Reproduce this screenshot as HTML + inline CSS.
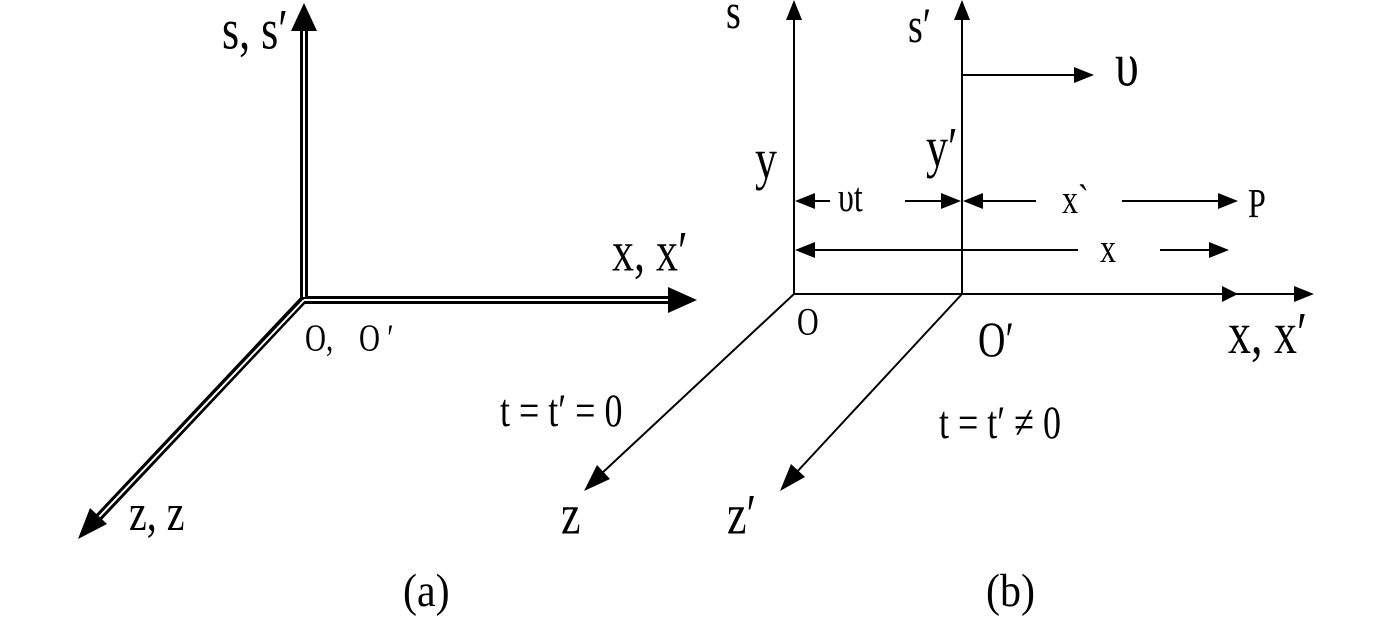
<!DOCTYPE html>
<html><head><meta charset="utf-8"><style>
html,body{margin:0;padding:0;background:#fff;}
.w{position:relative;width:1373px;height:625px;overflow:hidden}
svg{display:block;position:absolute;left:0;top:0}
.t{position:absolute;font-family:"Liberation Serif",serif;color:#000;line-height:1;white-space:pre;transform-origin:0 0.8375em;transform:scaleY(1.3)}
.p{transform:scaleY(1.1)}
</style></head><body><div class="w">
<svg width="1373" height="625" viewBox="0 0 1373 625" xmlns="http://www.w3.org/2000/svg">
<g stroke="#000" fill="none">
  <line x1="304" y1="28" x2="304" y2="300" stroke-width="8"/>
  <line x1="300" y1="300" x2="672" y2="300" stroke-width="8"/>
  <line x1="306" y1="297" x2="98" y2="518" stroke-width="8"/>
</g>
<g stroke="#fff" fill="none">
  <line x1="304" y1="28" x2="304" y2="297" stroke-width="2"/>
  <line x1="304" y1="300" x2="672" y2="300" stroke-width="2"/>
  <line x1="304" y1="300" x2="98" y2="518" stroke-width="2"/>
</g>
<g fill="#000">
  <polygon points="304,3 291,31 317,31"/>
  <polygon points="697,300 668,287 668,313"/>
  <polygon points="78,539 107,524 90,508"/>
</g>
<g stroke="#000" stroke-width="2" fill="none">
  <line x1="794" y1="20" x2="794" y2="294"/>
  <line x1="962" y1="20" x2="962" y2="294"/>
  <line x1="794" y1="294" x2="1295" y2="294"/>
  <line x1="962" y1="75" x2="1075" y2="75"/>
  <line x1="812" y1="201" x2="830" y2="201"/>
  <line x1="905" y1="201" x2="945" y2="201"/>
  <line x1="979" y1="201" x2="1036" y2="201"/>
  <line x1="1122" y1="201" x2="1222" y2="201"/>
  <line x1="812" y1="250" x2="1078" y2="250"/>
  <line x1="1160" y1="250" x2="1212" y2="250"/>
  <line x1="794" y1="294" x2="600" y2="475"/>
  <line x1="962" y1="294" x2="795" y2="474"/>
</g>
<g fill="#000">
  <polygon points="794,0 786,20 802,20"/>
  <polygon points="962,0 954,20 970,20"/>
  <polygon points="1094,75 1074,67 1074,83"/>
  <polygon points="1238,294 1222,286 1222,302"/>
  <polygon points="1314,294 1294,286 1294,302"/>
  <polygon points="795,201 815,193 815,209"/>
  <polygon points="961,201 941,193 941,209"/>
  <polygon points="963,201 983,193 983,209"/>
  <polygon points="1238,201 1218,193 1218,209"/>
  <polygon points="795,250 815,242 815,258"/>
  <polygon points="1229,250 1209,242 1209,258"/>
  <polygon points="584,491 610,479 597,465"/>
  <polygon points="780,491 805,477 791,464"/>
</g>
</svg>
<!-- top = baseline - 0.8375*size -->
<span class="t" style="left:222px;top:13px;font-size:44px">s, s′</span>
<span class="t" style="left:612px;top:235px;font-size:44px">x, x′</span>
<span class="t" style="left:305px;top:328px;font-size:29px">O,</span>
<span class="t" style="left:359px;top:328px;font-size:29px">O ′</span>
<span class="t" style="left:129px;top:497px;font-size:40px">z, z</span>
<span class="t p" style="left:403px;top:572px;font-size:42px">(a)</span>
<span class="t" style="left:726px;top:-3px;font-size:38px">s</span>
<span class="t" style="left:908px;top:11px;font-size:38px">s′</span>
<span class="t" style="left:1115px;top:47px;font-size:48px">υ</span>
<span class="t" style="left:755px;top:143px;font-size:44px">y</span>
<span class="t" style="left:926px;top:131px;font-size:44px">y′</span>
<span class="t" style="left:838px;top:184px;font-size:32px">υt</span>
<span class="t" style="left:1062px;top:186px;font-size:32px">x`</span>
<span class="t" style="left:1248px;top:190px;font-size:32px">P</span>
<span class="t" style="left:1100px;top:235px;font-size:32px">x</span>
<span class="t" style="left:797px;top:311px;font-size:30px">O</span>
<span class="t" style="left:978px;top:325px;font-size:38px">O′</span>
<span class="t" style="left:1228px;top:315px;font-size:46px">x, x′</span>
<span class="t" style="left:500px;top:396px;font-size:36px">t = t′ = 0</span>
<span class="t" style="left:939px;top:408px;font-size:36px">t = t′ ≠ 0</span>
<span class="t" style="left:561px;top:498px;font-size:44px">z</span>
<span class="t" style="left:727px;top:498px;font-size:44px">z′</span>
<span class="t p" style="left:986px;top:572px;font-size:42px">(b)</span>
</div></body></html>
